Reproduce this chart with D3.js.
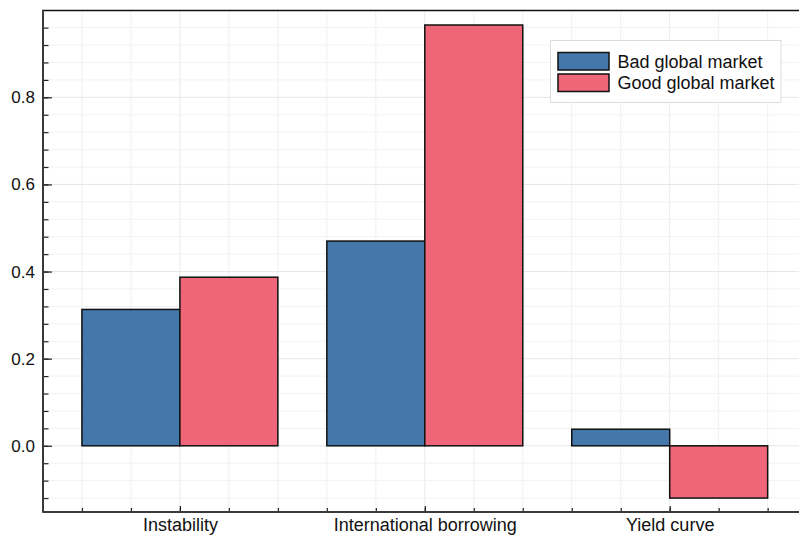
<!DOCTYPE html>
<html>
<head>
<meta charset="utf-8">
<script src="https://cdn.jsdelivr.net/npm/d3@7"></script>
<style>
  html, body { margin: 0; padding: 0; background: #fff; }
  svg { display: block; font-family: "Liberation Sans", Arial, sans-serif; }
</style>
</head>
<body>
<svg id="chart" width="799" height="538"></svg>
<script>
// Effect sizes by indicator, split by global market condition
const categories = ["Instability", "International borrowing", "Yield curve"];
const seriesNames = ["Bad global market", "Good global market"];
const badMarket = [0.313, 0.470, 0.038];
const goodMarket = [0.387, 0.966, -0.120];
const seriesColors = ["#4477AA", "#EE6677"];
const yTickValues = [0.0, 0.2, 0.4, 0.6, 0.8];
const yTickLabels = ["0.0", "0.2", "0.4", "0.6", "0.8"];

const svg = d3.select("#chart");
const W = 799, H = 538;
const plot = { left: 43, top: 10.5, bottom: 512, right: 806.6 };
const fontSize = "18px";

// x: category k sits at position k+1; each bar spans 0.4 units
const x = d3.scaleLinear().domain([0.441, 3.559]).range([plot.left, plot.right]);
const y = d3.scaleLinear().domain([-0.152, 0.9993]).range([plot.bottom, plot.top]);

const xMinor = d3.range(0.6, 3.5, 0.2).map(v => +v.toFixed(2));
const yMinor = d3.range(-0.12, 0.97, 0.04).map(v => +v.toFixed(2));

// grid
const grid = svg.append("g");
grid.selectAll("line.gx").data(xMinor).join("line")
  .attr("x1", d => x(d)).attr("x2", d => x(d))
  .attr("y1", plot.top).attr("y2", plot.bottom)
  .attr("stroke", d => Number.isInteger(d) ? "#e8e8e8" : "#f0f0f0").attr("stroke-width", 1);
grid.selectAll("line.gy").data(yMinor).join("line")
  .attr("x1", plot.left).attr("x2", W)
  .attr("y1", d => y(d)).attr("y2", d => y(d))
  .attr("stroke", d => yTickValues.some(t => Math.abs(t - d) < 1e-6) ? "#e6e6e6" : "#f2f2f2")
  .attr("stroke-width", 1);

// bars
const bars = svg.append("g");
const series = [badMarket, goodMarket];
series.forEach((vals, s) => {
  bars.selectAll(null).data(vals).join("rect")
    .attr("x", (d, i) => x(i + 1 + (s === 0 ? -0.4 : 0)))
    .attr("width", x(1.4) - x(1))
    .attr("y", d => y(Math.max(0, d)))
    .attr("height", d => Math.abs(y(d) - y(0)))
    .attr("fill", seriesColors[s])
    .attr("stroke", "#111")
    .attr("stroke-width", 1.5);
});

// axes
const yAxis = d3.axisLeft(y).tickValues(yTickValues)
  .tickFormat((d, i) => yTickLabels[i]).tickSize(-9).tickPadding(8);
const yAxisMinor = d3.axisLeft(y).tickValues(yMinor).tickFormat("").tickSize(-5.5);
const xAxis = d3.axisBottom(x).tickValues([1, 2, 3])
  .tickFormat(d => categories[d - 1]).tickSize(-6).tickPadding(6.5);
const xAxisMinor = d3.axisBottom(x).tickValues(xMinor).tickFormat("").tickSize(-4);

function styleAxis(g, size) {
  g.select(".domain").remove();
  g.selectAll(".tick line").attr("stroke", "#222").attr("stroke-width", 1.2);
  g.selectAll("text").attr("fill", "#111").style("font-size", size || fontSize)
    .style("font-family", '"Liberation Sans", Arial, sans-serif');
}
svg.append("g").attr("transform", `translate(${plot.left},0)`).call(yAxisMinor).call(styleAxis);
svg.append("g").attr("transform", `translate(${plot.left},0)`).call(yAxis).call(styleAxis, "17px");
svg.append("g").attr("transform", `translate(0,${plot.bottom})`).call(xAxisMinor).call(styleAxis);
svg.append("g").attr("transform", `translate(0,${plot.bottom})`).call(xAxis).call(styleAxis);

// frame
svg.append("line").attr("x1", plot.left).attr("x2", W).attr("y1", plot.top).attr("y2", plot.top)
  .attr("stroke", "#111").attr("stroke-width", 1.6);
svg.append("line").attr("x1", plot.left).attr("x2", plot.left).attr("y1", plot.top - 0.8).attr("y2", plot.bottom + 0.8)
  .attr("stroke", "#3a3a3a").attr("stroke-width", 2);
svg.append("line").attr("x1", plot.left).attr("x2", W).attr("y1", plot.bottom).attr("y2", plot.bottom)
  .attr("stroke", "#3a3a3a").attr("stroke-width", 2);

// legend
const leg = svg.append("g").attr("transform", "translate(550.5,40.5)");
leg.append("rect").attr("width", 230.5).attr("height", 62)
  .attr("fill", "#fff").attr("stroke", "#dcdcdc").attr("stroke-width", 1);
seriesNames.forEach((name, i) => {
  const row = leg.append("g").attr("transform", `translate(0,${12 + i * 21.5})`);
  row.append("rect").attr("x", 7.5).attr("y", 0).attr("width", 51).attr("height", 17.5)
    .attr("fill", seriesColors[i]).attr("stroke", "#111").attr("stroke-width", 1.5);
  row.append("text").attr("x", 67).attr("y", 15).text(name)
    .attr("fill", "#111").style("font-size", fontSize);
});
</script>
</body>
</html>
